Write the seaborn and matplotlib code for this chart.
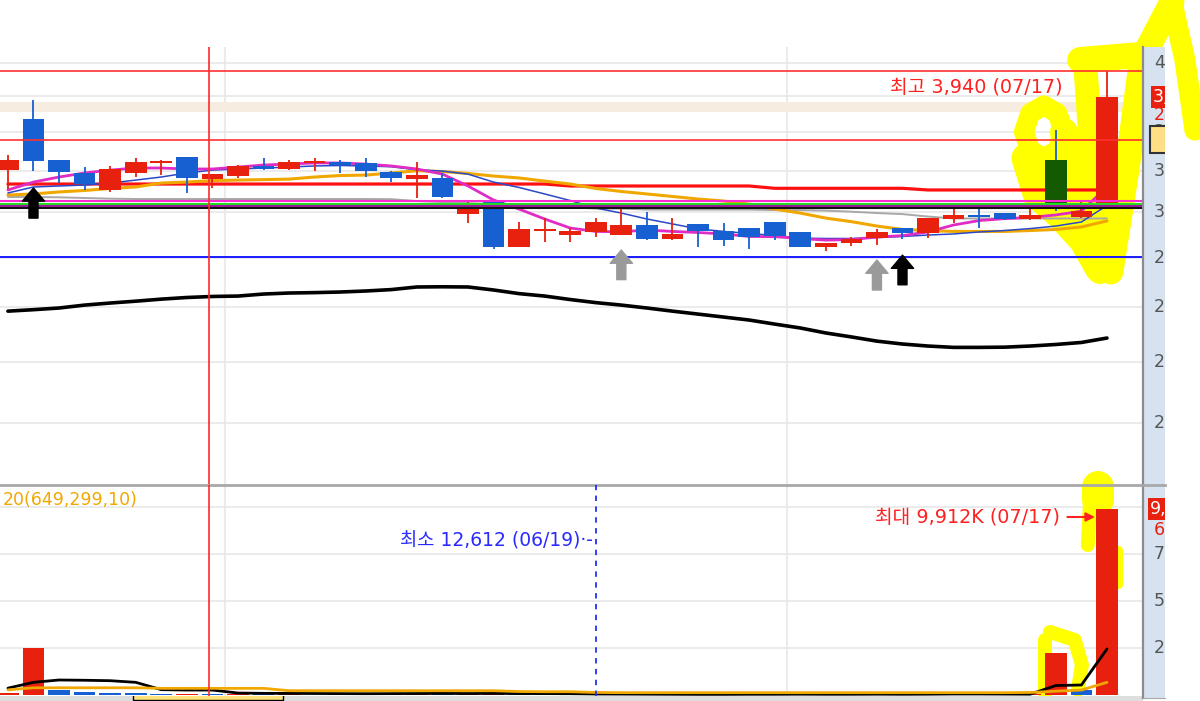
import matplotlib
matplotlib.use("Agg")
import matplotlib.pyplot as plt
import matplotlib.transforms as mtransforms
from matplotlib.patches import Rectangle
from matplotlib.ticker import NullLocator
import numpy as np
import pandas as pd
import seaborn as sns

# ---- daily candles (44 sessions, last one = 07/17) ----
open_ = [3254, 3590, 3318, 3238, 3132, 3234, 3296, 3338, 3196, 3219,
         3282, 3259, 3296, 3306, 3296, 3244, 3196, 3206, 2990, 3062,
         2805, 2895, 2872, 2890, 2872, 2928, 2850, 2934, 2897, 2913,
         2946, 2890, 2805, 2826, 2854, 2913, 2881, 2960, 2979, 2998,
         2960, 3318, 2975, 3055]
high = [3350, 3720, 3320, 3271, 3282, 3328, 3318, 3340, 3230, 3285,
        3328, 3318, 3328, 3318, 3328, 3250, 3306, 3238, 3062, 3066,
        2946, 2966, 2913, 2966, 3023, 3004, 2966, 2934, 2938, 2913,
        2946, 2890, 2828, 2859, 2903, 2913, 2966, 3023, 3023, 2998,
        3023, 3514, 3062, 3940]
low = [3140, 3250, 3177, 3132, 3122, 3213, 3223, 3112, 3144, 3203,
       3255, 3255, 3250, 3234, 3213, 3178, 3082, 3082, 2941, 2795,
       2805, 2835, 2835, 2863, 2872, 2844, 2844, 2805, 2812, 2798,
       2844, 2805, 2786, 2812, 2818, 2848, 2854, 2941, 2913, 2958,
       2958, 3010, 2970, 3050]
close = [3318, 3312, 3245, 3168, 3261, 3303, 3306, 3203, 3228, 3282,
         3259, 3303, 3306, 3285, 3250, 3203, 3223, 3091, 3023, 2805,
         2905, 2905, 2897, 2946, 2928, 2850, 2877, 2895, 2844, 2863,
         2867, 2808, 2826, 2848, 2890, 2885, 2966, 2985, 2971, 2960,
         2985, 3042, 3010, 3745]

# moving averages
ma5 = [3132, 3180, 3211, 3236, 3254, 3267, 3267, 3261, 3261, 3273,
       3286, 3292, 3299, 3299, 3292, 3280, 3261, 3229, 3156, 3072,
       3019, 2962, 2911, 2892, 2890, 2900, 2892, 2886, 2878, 2864,
       2863, 2853, 2844, 2847, 2861, 2869, 2889, 2928, 2953, 2964,
       2971, 2985, 3007, 3150]
ma10 = [3114, 3150, 3156, 3162, 3174, 3192, 3211, 3236, 3254, 3261,
        3267, 3273, 3280, 3283, 3280, 3275, 3256, 3248, 3229, 3180,
        3147, 3108, 3069, 3025, 2996, 2962, 2934, 2906, 2892, 2881,
        2869, 2855, 2853, 2853, 2858, 2864, 2872, 2878, 2889, 2897,
        2908, 2922, 2945, 3040]
ma20 = [3102, 3108, 3120, 3129, 3141, 3150, 3174, 3180, 3189, 3192,
        3195, 3198, 3211, 3220, 3223, 3236, 3250, 3245, 3233, 3217,
        3205, 3186, 3168, 3141, 3123, 3108, 3093, 3078, 3066, 3048,
        3019, 2996, 2967, 2947, 2922, 2903, 2897, 2892, 2892, 2892,
        2897, 2903, 2917, 2951]
ma60 = [3090, 3090, 3088, 3084, 3080, 3078, 3078, 3078, 3078, 3078,
        3078, 3078, 3078, 3078, 3078, 3077, 3066, 3060, 3054, 3048,
        3042, 3036, 3031, 3022, 3022, 3016, 3016, 3016, 3016, 3016,
        3013, 3013, 3010, 3004, 2996, 2990, 2976, 2965, 2965, 2965,
        2965, 2965, 2965, 2965]
ma120 = [3168, 3168, 3168, 3168, 3168, 3168, 3168, 3168, 3168, 3168,
         3168, 3168, 3168, 3168, 3168, 3168, 3168, 3168, 3168, 3168,
         3168, 3168, 3156, 3156, 3156, 3156, 3156, 3156, 3156, 3156,
         3142, 3142, 3142, 3142, 3142, 3142, 3132, 3132, 3132, 3132,
         3132, 3132, 3132, 3132]
long_ma = [2481, 2488, 2496, 2510, 2520, 2529, 2539, 2547, 2552, 2554,
           2564, 2569, 2571, 2574, 2579, 2586, 2599, 2600, 2599, 2584,
           2566, 2554, 2537, 2522, 2510, 2496, 2481, 2467, 2453, 2439,
           2420, 2402, 2379, 2361, 2342, 2329, 2320, 2314, 2314, 2315,
           2320, 2327, 2336, 2356]

# volume in thousand shares
vol_k = [110, 2500, 280, 150, 140, 140, 70, 90, 60, 75,
         45, 55, 40, 50, 45, 60, 80, 55, 85, 100,
         60, 50, 65, 12.6, 45, 40, 35, 50, 45, 40,
         55, 60, 40, 35, 55, 45, 90, 60, 45, 40,
         50, 2234, 282, 9912]
vol_ma5 = [380, 690, 814, 800, 777, 690, 300, 280, 280, 120,
           105, 100, 95, 90, 85, 90, 95, 100, 95, 100,
           95, 90, 85, 70, 65, 60, 55, 50, 50, 55,
           55, 60, 55, 55, 60, 55, 60, 70, 70, 65,
           60, 520, 548, 2463]
vol_ma20 = [290, 400, 400, 400, 400, 400, 370, 370, 370, 370,
            370, 245, 245, 245, 245, 245, 245, 245, 245, 245,
            200, 190, 190, 150, 140, 140, 140, 140, 140, 140,
            140, 140, 140, 140, 140, 140, 140, 140, 140, 140,
            150, 220, 280, 690]

# horizontal reference levels
level_high = 3940
level_red2 = 3447
level_low = 2755
pivot_levels = [3064, 3051, 3038, 3025]
pivot_colors = ["#ff2ad4", "#22dd22", "#9a1a9a", "#111111"]
band_lo, band_hi = 3638, 3709

# axis ticks
price_ticks = [2000, 2250, 2500, 2750, 3000, 3250, 3500, 3750, 4000]
price_minor = [1800, 2055, 2310, 2570, 2825, 3080, 3335, 3590, 3850]
vol_ticks = [2500, 5000, 7500, 10000]
vol_minor = list(range(0, 11500, 500))
month_breaks = [8.5, 30.5]
cursor_idx = 7.88
min_idx, max_idx = 23, 43

# signal arrows
arrow_idx = [1, 24, 34, 35]
arrow_tip = [3144, 2790, 2737, 2763]
arrow_base = [2967, 2636, 2584, 2610]
arrow_col = ["black", "#9a9a9a", "#9a9a9a", "black"]

# hand drawn highlighter strokes (index, value, width px)
hl_price = [
    ([41.95, 44.29], [4021, 4060], 26),
    ([42.14, 42.41, 42.72], [4021, 3318, 2675], 24),
    ([43.15, 43.78, 44.35, 45.54], [2675, 3254, 4021, 4495], 25),
    ([45.54, 46.05, 46.44], [4495, 4021, 3514], 21),
    ([41.32, 41.06, 40.53, 40.0, 39.75, 40.0, 40.53, 41.06, 41.32],
     [3501, 3630, 3685, 3630, 3501, 3380, 3330, 3380, 3501], 20),
    ([39.85, 40.3, 41.2, 42.1, 42.72], [3330, 3102, 2985, 2844, 2695], 30),
    ([41.32, 41.5, 41.6], [3501, 3223, 3013], 28),
]
hl_vol = [
    ([42.64, 42.64], [11080, 10388], 32),
    ([42.33, 42.25], [10122, 7995], 14),
    ([43.47, 43.47], [7729, 5867], 8),
    ([40.57, 40.57], [2941, 122], 14),
    ([40.77, 41.74, 42.02, 41.86], [3367, 2941, 1612, 282], 14),
]

RED = "#e8200e"
BLUE = "#1760d2"
HL_GREEN = "#145a00"

sns.set_style("white")
plt.rcParams["font.family"] = ["DejaVu Sans", "Noto Sans CJK KR"]

W, H = 1200, 701


def box(x0, y0, x1, y1):
    return [x0 / W, 1 - y1 / H, (x1 - x0) / W, (y1 - y0) / H]


fig = plt.figure(figsize=(W / 100, H / 100), dpi=100)
ax_p = fig.add_axes(box(0, 47, 1143, 485))
ax_v = fig.add_axes(box(0, 485, 1143, 696))
ax_ps = fig.add_axes(box(1143, 47, 1165, 485))
ax_vs = fig.add_axes(box(1143, 485, 1165, 698))
ax_b = fig.add_axes(box(0, 696, 1143, 701))
ax_ps.set_zorder(5)
ax_vs.set_zorder(5)

idx = np.arange(len(close))
df = pd.DataFrame({"idx": idx, "open": open_, "high": high, "low": low,
                   "close": close, "ma5": ma5, "ma10": ma10, "ma20": ma20,
                   "ma60": ma60, "ma120": ma120, "long": long_ma,
                   "vol": vol_k, "vma5": vol_ma5, "vma20": vol_ma20})

XLIM = (-0.31, 44.41)

# ================= price panel =================
ax_p.set_yscale("log")
ax_p.set_xlim(*XLIM)
ax_p.set_ylim(1776, 4123)
ax_p.set_yticks(price_ticks)
ax_p.yaxis.set_minor_locator(NullLocator())
ax_p.set_xticks(month_breaks)
ax_p.tick_params(length=0, labelleft=False, labelbottom=False)
ax_p.grid(True, color="#e8e8e8", lw=1.2)
for s in ax_p.spines.values():
    s.set_visible(False)

ax_p.axhspan(band_lo, band_hi, color="#f6ede0", lw=0, zorder=1)

for xs, ys, w in hl_price:
    ax_p.plot(xs, ys, color="#ffff00", lw=w * 0.72, solid_capstyle="round",
              solid_joinstyle="round", zorder=1.5, clip_on=False)

sns.lineplot(data=df, x="idx", y="long", ax=ax_p, color="black", lw=2.6, zorder=3)
sns.lineplot(data=df, x="idx", y="ma60", ax=ax_p, color="#a8a8a8", lw=1.4, zorder=3)
sns.lineplot(data=df, x="idx", y="ma120", ax=ax_p, color="#ff1010", lw=2.3, zorder=3)
sns.lineplot(data=df, x="idx", y="ma20", ax=ax_p, color="#f0a800", lw=2.2, zorder=3)
sns.lineplot(data=df, x="idx", y="ma10", ax=ax_p, color="#2a48c8", lw=1.1, zorder=3)
sns.lineplot(data=df, x="idx", y="ma5", ax=ax_p, color="#e02cc4", lw=2.0, zorder=3)
ax_p.set_xlabel("")
ax_p.set_ylabel("")

up = df["close"] >= df["open"]
wick_col = np.where(up, RED, BLUE)
body_col = wick_col.copy()
body_col[41] = HL_GREEN
body_lo = np.minimum(df["open"], df["close"])
body_hi = np.maximum(np.maximum(df["open"], df["close"]), body_lo * 1.004)
ax_p.vlines(idx, df["low"], df["high"], colors=wick_col, lw=1.3, zorder=4)
ax_p.bar(idx, body_hi - body_lo, bottom=body_lo, width=0.85, color=body_col,
         lw=0, zorder=4)

ax_p.axhline(level_high, color="#ff3030", lw=1.2, zorder=5)
ax_p.axhline(level_red2, color="#ff3030", lw=1.2, zorder=5)
ax_p.axhline(level_low, color="#1a1aff", lw=1.4, zorder=5)
for lv, c in zip(pivot_levels, pivot_colors):
    ax_p.axhline(lv, color=c, lw=1.5, zorder=5)
ax_p.axvline(cursor_idx, color="#ff2a2a", lw=1.2, zorder=5)

for i, t, b, c in zip(arrow_idx, arrow_tip, arrow_base, arrow_col):
    ax_p.annotate("", xy=(i, t), xytext=(i, b), zorder=6,
                  arrowprops=dict(arrowstyle="simple,head_length=0.95,head_width=1.6,tail_width=0.65",
                                  color=c, shrinkA=0, shrinkB=0, mutation_scale=10))

ax_p.text(41.25, 3817, "최고 3,940 (07/17)", color="#ff2020", fontsize=13.8,
          ha="right", va="center", zorder=7)

# price scale strip
blend_ps = mtransforms.blended_transform_factory(ax_ps.transAxes, ax_ps.transData)
ax_ps.set_yscale("log")
ax_ps.set_ylim(1776, 4123)
ax_ps.set_xlim(0, 1)
ax_ps.set_facecolor("#d6e2ef")
ax_ps.set_xticks([])
ax_ps.set_yticks(price_ticks)
ax_ps.set_yticks(price_minor, minor=True)
ax_ps.tick_params(axis="y", which="major", direction="in", length=7, width=1.2,
                  color="#808080", labelleft=False)
ax_ps.tick_params(axis="y", which="minor", direction="in", length=3.5, width=1,
                  color="#808080", labelleft=False)
for k, s in ax_ps.spines.items():
    s.set_visible(k == "left")
ax_ps.spines["left"].set_color("#8c8c8c")
ax_ps.spines["left"].set_linewidth(1.6)
for v in price_ticks:
    ax_ps.text(0.5, v, f"{v:,}", transform=blend_ps, ha="left", va="center",
               fontsize=12.5, color="#555555", clip_on=True)
ax_ps.add_patch(Rectangle((0.32, level_red2 * 0.976), 1.0, level_red2 * 0.051,
                          transform=blend_ps, fc="#ffdf85", ec="#333333", lw=1.5, zorder=6))
ax_ps.text(0.46, close[-1], f"{close[-1]:,}", transform=blend_ps, ha="left", va="center",
           fontsize=12.5, color="white", clip_on=True, zorder=7,
           bbox=dict(boxstyle="square,pad=0.12", fc=RED, ec="none"))
ax_ps.annotate("24.83%", xy=(0.5, close[-1]), xycoords=blend_ps, xytext=(0, -13),
               textcoords="offset points", ha="left", va="center", fontsize=12.5,
               color=RED, clip_on=True, zorder=7)

# ================= volume panel =================
ax_v.set_xlim(*XLIM)
ax_v.set_ylim(-37, 11186)
ax_v.set_yticks(vol_ticks)
ax_v.set_xticks(month_breaks)
ax_v.tick_params(length=0, labelleft=False, labelbottom=False)
ax_v.grid(True, color="#e8e8e8", lw=1.2)
for k, s in ax_v.spines.items():
    s.set_visible(k == "top")
ax_v.spines["top"].set_color("#a8a8a8")
ax_v.spines["top"].set_linewidth(2)

for j, (xs, ys, w) in enumerate(hl_vol):
    ax_v.plot(xs, ys, color="#ffff00", lw=w * 0.72, solid_capstyle="round",
              solid_joinstyle="round", zorder=1.5, clip_on=(j != 0))

vol_col = [RED if (i == 0 or v > vol_k[i - 1]) else BLUE for i, v in enumerate(vol_k)]
ax_v.bar(idx, df["vol"], width=0.85, color=vol_col, lw=0, zorder=3)
sns.lineplot(data=df, x="idx", y="vma5", ax=ax_v, color="black", lw=2.0, zorder=4)
sns.lineplot(data=df, x="idx", y="vma20", ax=ax_v, color="#f0a800", lw=2.0, zorder=4)
ax_v.set_xlabel("")
ax_v.set_ylabel("")
ax_v.axvline(cursor_idx, color="#ff2a2a", lw=1.2, zorder=5)
ax_v.axvline(min_idx, color="#2233ee", lw=1.3, ls=(0, (3, 3)), zorder=5)

ax_v.text(0.002, 0.93, "20(649,299,10)", transform=ax_v.transAxes, color="#f0a800",
          fontsize=12.5, ha="left", va="center")
ax_v.text(min_idx - 0.12, 8200, "최소 12,612 (06/19)·-", color="#2a2aff",
          fontsize=13.5, ha="right", va="center", zorder=7)
ax_v.annotate("최대 9,912K (07/17)", xy=(max_idx - 0.47, 9484), xytext=(41.16, 9484),
              color="#ff2020", fontsize=13.8, ha="right", va="center", zorder=7,
              arrowprops=dict(arrowstyle="-|>", color="#ff2020", lw=1.5,
                              mutation_scale=13, shrinkA=3, shrinkB=0))

# volume scale strip
blend_vs = mtransforms.blended_transform_factory(ax_vs.transAxes, ax_vs.transData)
ax_vs.set_ylim(-144, 11186)
ax_vs.set_xlim(0, 1)
ax_vs.set_facecolor("#d6e2ef")
ax_vs.set_xticks([])
ax_vs.set_yticks(vol_ticks)
ax_vs.set_yticks(vol_minor, minor=True)
ax_vs.tick_params(axis="y", which="major", direction="in", length=7, width=1.2,
                  color="#808080", labelleft=False)
ax_vs.tick_params(axis="y", which="minor", direction="in", length=3.5, width=1,
                  color="#808080", labelleft=False)
for k, s in ax_vs.spines.items():
    s.set_visible(k in ("left", "top", "bottom"))
ax_vs.spines["left"].set_color("#8c8c8c")
ax_vs.spines["left"].set_linewidth(1.6)
ax_vs.spines["top"].set_color("#a8a8a8")
ax_vs.spines["top"].set_linewidth(2)
ax_vs.spines["bottom"].set_color("#a8a8a8")
for v in vol_ticks[:-1]:
    ax_vs.text(0.5, v, f"{v:,}", transform=blend_vs, ha="left", va="center",
               fontsize=12.5, color="#555555", clip_on=True)
ax_vs.text(0.3, vol_k[-1], f"{vol_k[-1]:,}K", transform=blend_vs, ha="left", va="center",
           fontsize=12.5, color="white", clip_on=True, zorder=7,
           bbox=dict(boxstyle="square,pad=0.12", fc=RED, ec="none"))
ax_vs.annotate("692K", xy=(0.5, vol_k[-1]), xycoords=blend_vs, xytext=(0, -15),
               textcoords="offset points", ha="left", va="center", fontsize=12.5,
               color=RED, clip_on=True, zorder=7)

# bottom status strip
ax_b.set_facecolor("#dedede")
ax_b.set_xticks([])
ax_b.set_yticks([])
for s in ax_b.spines.values():
    s.set_visible(False)
ax_b.add_patch(Rectangle((133 / 1143, 0.25), 150 / 1143, 1.2, transform=ax_b.transAxes,
                         fc="#ffe27a", ec="black", lw=1))

fig.savefig("out.png", dpi=100)
